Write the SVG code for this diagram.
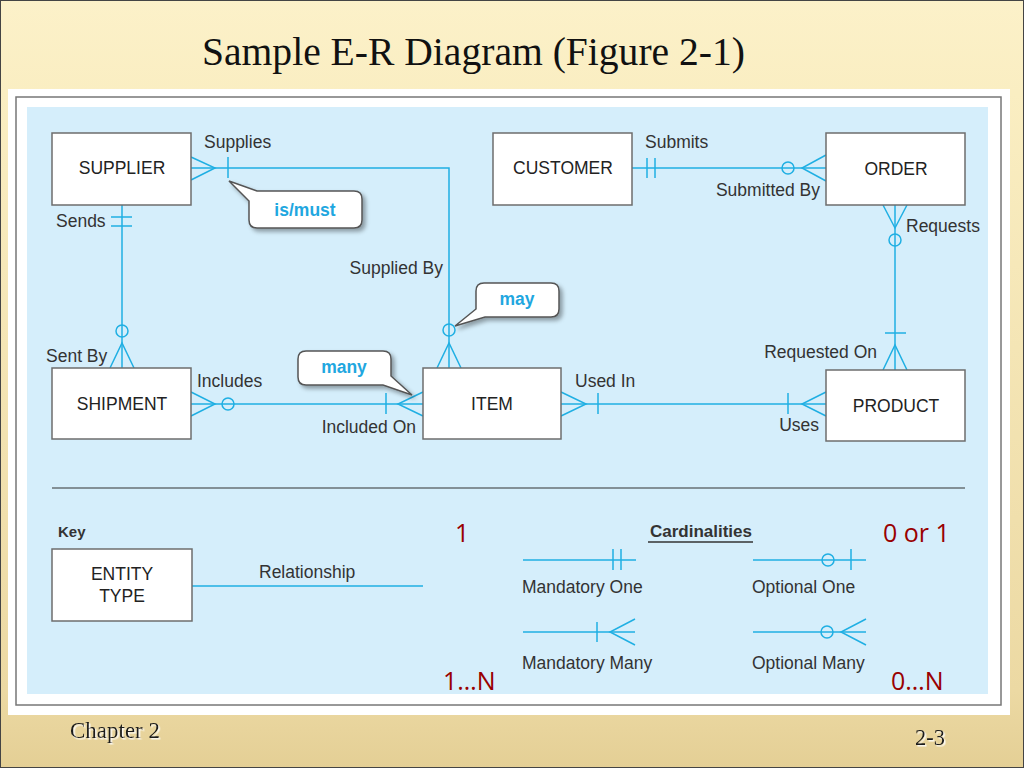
<svg xmlns="http://www.w3.org/2000/svg" width="1024" height="768" viewBox="0 0 1024 768">
<defs>
<linearGradient id="bg" x1="0" y1="0" x2="0" y2="1">
<stop offset="0" stop-color="#fcf1c9"/>
<stop offset="0.12" stop-color="#faeec2"/>
<stop offset="0.9" stop-color="#ecd9a3"/>
<stop offset="1" stop-color="#e4cf95"/>
</linearGradient>
<filter id="sh" x="-20%" y="-20%" width="150%" height="160%">
<feDropShadow dx="3" dy="3" stdDeviation="2" flood-color="#000" flood-opacity="0.35"/>
</filter>
<filter id="tsh" x="-10%" y="-30%" width="130%" height="160%">
<feDropShadow dx="1.5" dy="1.5" stdDeviation="0.6" flood-color="#ffffff" flood-opacity="0.9"/>
</filter>
</defs>
<style>
.ent{fill:#fff;stroke:#6d6d6d;stroke-width:1.5}
.et{font-family:"Liberation Sans",Arial,sans-serif;font-size:17.5px;fill:#222;text-anchor:middle}
.lb{font-family:"Liberation Sans",Arial,sans-serif;font-size:17.5px;fill:#333}
.end{text-anchor:end}
.ln{stroke:#1fafe3;stroke-width:1.5;fill:none}
.cir{stroke:#1fafe3;stroke-width:1.5;fill:none}
.co{fill:#fff;stroke:#555;stroke-width:1.5;filter:url(#sh)}
.ct{font-family:"Liberation Sans",Arial,sans-serif;font-size:17.5px;font-weight:bold;fill:#1fa7e0;text-anchor:middle}
.red{font-family:"Open Sans","DejaVu Sans",sans-serif;font-size:25px;fill:#990000}
.ft{font-family:"Liberation Serif","Times New Roman",serif;fill:#1a1a1a;filter:url(#tsh)}
</style>
<rect x="0" y="0" width="1024" height="768" fill="url(#bg)" stroke="#444" stroke-width="2"/>
<text x="202" y="65" font-family="Liberation Serif,'Times New Roman',serif" font-size="39.5" fill="#111" textLength="543" lengthAdjust="spacingAndGlyphs">Sample E-R Diagram (Figure 2-1)</text>
<rect x="8" y="89" width="1002" height="626" fill="#fff"/>
<rect x="16" y="97" width="985" height="608" fill="none" stroke="#777" stroke-width="1.5"/>
<rect x="27" y="107" width="961" height="587" fill="#d5eefb"/>

<g id="connectors">
<g id="c-supplier-item">
<polyline class="ln" points="191,168 449,168 449,368"/>
<polyline class="ln" points="191,157 215,168 191,180"/>
<line class="ln" x1="228" y1="157" x2="228" y2="178"/>
<circle class="cir" cx="449" cy="330" r="6"/>
<polyline class="ln" points="437,368 449,343 461,368"/>
</g>
<g id="c-customer-order">
<line class="ln" x1="632" y1="168" x2="826" y2="168"/>
<line class="ln" x1="647" y1="158" x2="647" y2="178"/>
<line class="ln" x1="655" y1="158" x2="655" y2="178"/>
<circle class="cir" cx="788" cy="168" r="6"/>
<polyline class="ln" points="826,155 802,168 826,181"/>
</g>
<g id="c-order-product">
<line class="ln" x1="895" y1="205" x2="895" y2="370"/>
<polyline class="ln" points="883,205 895,228 907,205"/>
<circle class="cir" cx="895" cy="240" r="6"/>
<line class="ln" x1="885" y1="333" x2="906" y2="333"/>
<polyline class="ln" points="883,370 895,345 907,370"/>
</g>
<g id="c-supplier-shipment">
<line class="ln" x1="122" y1="205" x2="122" y2="368"/>
<line class="ln" x1="111" y1="217" x2="132" y2="217"/>
<line class="ln" x1="111" y1="226" x2="132" y2="226"/>
<circle class="cir" cx="122" cy="331" r="6"/>
<polyline class="ln" points="110,368 122,343 134,368"/>
</g>
<g id="c-shipment-item">
<line class="ln" x1="191" y1="404" x2="423" y2="404"/>
<polyline class="ln" points="191,392 215,404 191,416"/>
<circle class="cir" cx="228" cy="404" r="6"/>
<line class="ln" x1="386" y1="393" x2="386" y2="414"/>
<polyline class="ln" points="423,392 398,404 423,416"/>
</g>
<g id="c-item-product">
<line class="ln" x1="561" y1="404" x2="826" y2="404"/>
<polyline class="ln" points="561,392 586,404 561,416"/>
<line class="ln" x1="598" y1="393" x2="598" y2="414"/>
<line class="ln" x1="788" y1="393" x2="788" y2="414"/>
<polyline class="ln" points="826,392 802,404 826,416"/>
</g>
<g id="c-key">
<line class="ln" x1="192" y1="586" x2="423" y2="586"/>
</g>
</g>

<g id="labels">
<text class="lb" x="204" y="148">Supplies</text>
<text class="lb" x="56" y="227">Sends</text>
<text class="lb end" x="443" y="274">Supplied By</text>
<text class="lb" x="645" y="148">Submits</text>
<text class="lb end" x="820" y="196">Submitted By</text>
<text class="lb" x="906" y="232">Requests</text>
<text class="lb" x="46" y="362">Sent By</text>
<text class="lb" x="197" y="387">Includes</text>
<text class="lb end" x="416" y="433">Included On</text>
<text class="lb" x="575" y="387">Used In</text>
<text class="lb end" x="877" y="358">Requested On</text>
<text class="lb end" x="819" y="431">Uses</text>
</g>

<g id="supplier"><rect class="ent" x="52" y="133" width="139" height="72"/><text class="et" x="122" y="174">SUPPLIER</text></g>
<g id="customer"><rect class="ent" x="493" y="133" width="139" height="72"/><text class="et" x="563" y="174">CUSTOMER</text></g>
<g id="order"><rect class="ent" x="826" y="133" width="139" height="72"/><text class="et" x="896" y="175">ORDER</text></g>
<g id="shipment"><rect class="ent" x="52" y="368" width="139" height="71"/><text class="et" x="122" y="410">SHIPMENT</text></g>
<g id="item"><rect class="ent" x="423" y="368" width="138" height="71"/><text class="et" x="492" y="410">ITEM</text></g>
<g id="product"><rect class="ent" x="826" y="370" width="139" height="71"/><text class="et" x="896" y="412">PRODUCT</text></g>

<g id="callout-ismust">
<path class="co" d="M257,191 H354 Q362,191 362,199 V220 Q362,228 354,228 H257 Q249,228 249,220 V201 L229,181 Z"/>
<text class="ct" x="305" y="216">is/must</text>
</g>
<g id="callout-may">
<path class="co" d="M484,283 H551 Q559,283 559,291 V309 Q559,317 551,317 H485 L455,326 L476,309 V291 Q476,283 484,283 Z"/>
<text class="ct" x="517" y="305">may</text>
</g>
<g id="callout-many">
<path class="co" d="M306,351 H383 Q391,351 391,359 V376 L412,395 L383,385 H306 Q298,385 298,377 V359 Q298,351 306,351 Z"/>
<text class="ct" x="344" y="373">many</text>
</g>

<line x1="52" y1="488" x2="965" y2="488" stroke="#333" stroke-width="1.2"/>

<g id="key">
<text x="58" y="537" font-family="Liberation Sans,Arial,sans-serif" font-size="15" font-weight="bold" fill="#333">Key</text>
<g id="entity-type"><rect class="ent" x="52" y="549" width="140" height="72"/>
<text class="et" x="122" y="580">ENTITY</text><text class="et" x="122" y="602">TYPE</text></g>
<text class="lb" x="259" y="578">Relationship</text>
<text x="701" y="537" font-family="Liberation Sans,Arial,sans-serif" font-size="17" font-weight="bold" fill="#333" text-anchor="middle">Cardinalities</text>
<line x1="648" y1="542" x2="753" y2="542" stroke="#333" stroke-width="1.5"/>
</g>

<g id="card-mandatory-one">
<line class="ln" x1="523" y1="560" x2="636" y2="560"/>
<line class="ln" x1="613" y1="549" x2="613" y2="570"/>
<line class="ln" x1="621" y1="549" x2="621" y2="570"/>
<text class="lb" x="522" y="593">Mandatory One</text>
</g>
<g id="card-optional-one">
<line class="ln" x1="753" y1="560" x2="866" y2="560"/>
<circle class="cir" cx="828" cy="560" r="6" fill="#d5eefb"/>
<line class="ln" x1="851" y1="549" x2="851" y2="570"/>
<text class="lb" x="752" y="593">Optional One</text>
</g>
<g id="card-mandatory-many">
<line class="ln" x1="523" y1="632" x2="635" y2="632"/>
<line class="ln" x1="597" y1="622" x2="597" y2="642"/>
<polyline class="ln" points="635,619 610,632 635,645"/>
<text class="lb" x="522" y="669">Mandatory Many</text>
</g>
<g id="card-optional-many">
<line class="ln" x1="753" y1="632" x2="866" y2="632"/>
<circle class="cir" cx="827" cy="632" r="6"/>
<polyline class="ln" points="866,619 841,632 866,645"/>
<text class="lb" x="752" y="669">Optional Many</text>
</g>

<text class="red" x="455" y="542">1</text>
<text class="red" x="883" y="542">0 or 1</text>
<text class="red" x="443" y="690">1…N</text>
<text class="red" x="891" y="690">0…N</text>

<text class="ft" x="70" y="738" font-size="23" textLength="90" lengthAdjust="spacingAndGlyphs">Chapter 2</text>
<text class="ft" x="915" y="745" font-size="24" textLength="30" lengthAdjust="spacingAndGlyphs">2-3</text>
</svg>
